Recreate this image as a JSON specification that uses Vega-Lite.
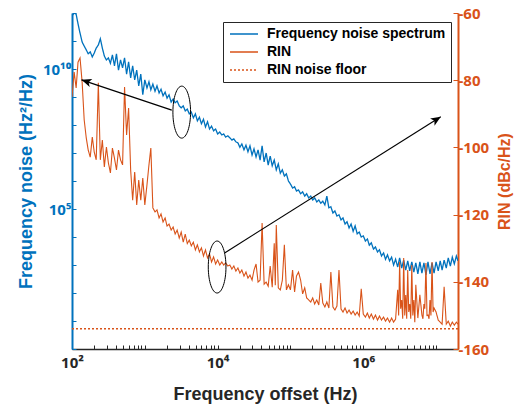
{
  "$schema": "https://vega.github.io/schema/vega-lite/v6.json",
  "width": 386,
  "height": 336,
  "autosize": {"type": "none"},
  "padding": {"left": 72, "top": 13, "right": 60, "bottom": 57},
  "background": "white",
  "config": {
    "view": {"stroke": null},
    "font": "Liberation Sans",
    "axis": {"labelFont": "Noto Sans", "titleFont": "Liberation Sans", "labelFontWeight": "bold", "titleFontWeight": "bold", "grid": false, "labelOverlap": false, "labelFlush": false, "labelBound": false},
    "legend": {"labelFont": "Liberation Sans"}
  },
  "datasets": {
    "fns": [
      {"f":100,"v":7.8e11},{"f":107,"v":1e12},{"f":114,"v":9.1e11},{"f":121,"v":4.1e11},{"f":129,"v":1.9e11},{"f":138,"v":9.1e10},{"f":147,"v":6.6e10},{"f":157,"v":4.8e10},{"f":167,"v":3.5e10},{"f":178,"v":4.1e10},{"f":190,"v":2.7e10},{"f":202,"v":3.7e10},{"f":215,"v":5.6e10},{"f":230,"v":7.2e10},{"f":245,"v":1.2e11},{"f":261,"v":5.6e10},{"f":278,"v":2.9e10},{"f":297,"v":2.1e10},{"f":316,"v":2.5e10},{"f":337,"v":1.6e10},{"f":359,"v":3.2e10},{"f":383,"v":1.3e10},{"f":408,"v":3.5e10},{"f":435,"v":9.1e9},{"f":464,"v":2.1e10},{"f":495,"v":1.1e10},{"f":527,"v":2.5e10},{"f":562,"v":6.6e9},{"f":599,"v":1.8e10},{"f":639,"v":4.8e9},{"f":681,"v":1.3e10},{"f":726,"v":4.1e9},{"f":774,"v":9.1e9},{"f":825,"v":2.5e9},{"f":880,"v":6.6e9},{"f":938,"v":1.2e9},
      {"f":1000,"v":4.1e9},{"f":1070,"v":2.1e9},{"f":1140,"v":3.5e9},{"f":1210,"v":1.8e9},{"f":1290,"v":2.9e9},{"f":1380,"v":1.6e9},{"f":1470,"v":2.5e9},{"f":1570,"v":1.4e9},{"f":1670,"v":1.9e9},{"f":1780,"v":1.1e9},{"f":1900,"v":1.5e9},{"f":2020,"v":9.1e8},{"f":2150,"v":1.2e9},{"f":2300,"v":6.6e8},{"f":2450,"v":8.5e8},{"f":2610,"v":6.2e8},{"f":2780,"v":7.2e8},{"f":2970,"v":4.8e8},{"f":3160,"v":4.1e8},{"f":3370,"v":4.8e8},{"f":3590,"v":3.2e8},{"f":3830,"v":3.7e8},{"f":4080,"v":2.5e8},{"f":4350,"v":2.9e8},{"f":4640,"v":1.8e8},{"f":4950,"v":2.5e8},{"f":5270,"v":1.4e8},{"f":5620,"v":1.9e8},{"f":5990,"v":1.1e8},{"f":6390,"v":1.6e8},{"f":6810,"v":8.5e7},{"f":7260,"v":1.3e8},{"f":7740,"v":7.2e7},{"f":8250,"v":9.1e7},{"f":8800,"v":6.2e7},{"f":9380,"v":7.2e7},
      {"f":10000,"v":4.8e7},{"f":10700,"v":5.6e7},{"f":11400,"v":4.4e7},{"f":12100,"v":4.8e7},{"f":12900,"v":3.7e7},{"f":13800,"v":4.1e7},{"f":14700,"v":3.5e7},{"f":15700,"v":2.9e7},{"f":16700,"v":3.2e7},{"f":17800,"v":2.5e7},{"f":19000,"v":2.3e7},{"f":20200,"v":1.6e7},{"f":21500,"v":2.1e7},{"f":23000,"v":1.3e7},{"f":24500,"v":1.9e7},{"f":26100,"v":1.1e7},{"f":27800,"v":1.8e7},{"f":29700,"v":8.5e6},{"f":31600,"v":1.4e7},{"f":33700,"v":7.2e6},{"f":35900,"v":1.3e7},{"f":38300,"v":5.6e6},{"f":40800,"v":1.8e7},{"f":43500,"v":4.8e6},{"f":46400,"v":1.0e7},{"f":49500,"v":3.7e6},{"f":52700,"v":7.8e6},{"f":56200,"v":3.5e6},{"f":59900,"v":5.6e6},{"f":63900,"v":2.5e6},{"f":68100,"v":4.1e6},{"f":72600,"v":1.9e6},{"f":77400,"v":2.5e6},{"f":82500,"v":1.5e6},{"f":88000,"v":1.8e6},{"f":93800,"v":1.0e6},
      {"f":100000,"v":7.8e5},{"f":107000,"v":5.6e5},{"f":114000,"v":6.2e5},{"f":121000,"v":4.4e5},{"f":129000,"v":4.8e5},{"f":138000,"v":3.5e5},{"f":147000,"v":4.1e5},{"f":157000,"v":2.9e5},{"f":167000,"v":3.5e5},{"f":178000,"v":2.5e5},{"f":190000,"v":2.9e5},{"f":202000,"v":2.1e5},{"f":215000,"v":2.5e5},{"f":230000,"v":1.8e5},{"f":245000,"v":2.1e5},{"f":261000,"v":1.6e5},{"f":278000,"v":1.9e5},{"f":297000,"v":1.4e5},{"f":316000,"v":2.9e5},{"f":337000,"v":1.1e5},{"f":359000,"v":1.2e5},{"f":383000,"v":7.2e4},{"f":408000,"v":8.5e4},{"f":435000,"v":5.6e4},{"f":464000,"v":6.2e4},{"f":495000,"v":4.1e4},{"f":527000,"v":4.8e4},{"f":562000,"v":2.9e4},{"f":599000,"v":3.5e4},{"f":639000,"v":2.1e4},{"f":681000,"v":2.9e4},{"f":726000,"v":1.6e4},{"f":774000,"v":2.5e4},{"f":825000,"v":1.3e4},{"f":880000,"v":1.5e4},{"f":938000,"v":1.0e4},
      {"f":1000000,"v":1.1e4},{"f":1070000,"v":7.2e3},{"f":1140000,"v":8.5e3},{"f":1210000,"v":5.1e3},{"f":1290000,"v":6.2e3},{"f":1380000,"v":3.7e3},{"f":1470000,"v":4.4e3},{"f":1570000,"v":2.9e3},{"f":1670000,"v":3.5e3},{"f":1780000,"v":2.1e3},{"f":1900000,"v":2.7e3},{"f":2020000,"v":1.6e3},{"f":2150000,"v":2.3e3},{"f":2300000,"v":1.4e3},{"f":2450000,"v":1.9e3},{"f":2610000,"v":1.0e3},{"f":2780000,"v":1.6e3},{"f":2970000,"v":8.5e2},{"f":3160000,"v":1.8e3},{"f":3370000,"v":7.8e2},{"f":3590000,"v":1.5e3},{"f":3830000,"v":6.6e2},{"f":4080000,"v":1.4e3},{"f":4350000,"v":6.2e2},{"f":4640000,"v":1.3e3},{"f":4950000,"v":5.6e2},{"f":5270000,"v":1.2e3},{"f":5620000,"v":4.8e2},{"f":5990000,"v":1.3e3},{"f":6390000,"v":5.1e2},{"f":6810000,"v":1.2e3},{"f":7260000,"v":4.4e2},{"f":7740000,"v":1.3e3},{"f":8250000,"v":4.8e2},{"f":8800000,"v":1.2e3},{"f":9380000,"v":5.1e2},
      {"f":10000000,"v":1.3e3},{"f":10700000,"v":6.2e2},{"f":11400000,"v":1.4e3},{"f":12100000,"v":6.6e2},{"f":12900000,"v":1.5e3},{"f":13800000,"v":7.8e2},{"f":14700000,"v":1.8e3},{"f":15700000,"v":9.1e2},{"f":16700000,"v":1.9e3},{"f":17800000,"v":1.1e3},{"f":19000000,"v":2.1e3},{"f":20000000,"v":1.4e3}
    ],
    "rin": [
      {"f":100,"db":-85.0},{"f":107,"db":-77.6},{"f":114,"db":-82.3},{"f":121,"db":-74.6},{"f":129,"db":-73.4},{"f":138,"db":-80.8},{"f":147,"db":-91.8},{"f":157,"db":-97.2},{"f":167,"db":-100.8},{"f":178,"db":-102.9},{"f":190,"db":-96.9},{"f":202,"db":-101.4},{"f":215,"db":-103.7},{"f":230,"db":-80.8},{"f":245,"db":-103.7},{"f":261,"db":-97.8},{"f":278,"db":-105.8},{"f":297,"db":-99.9},{"f":316,"db":-104.6},{"f":337,"db":-107.6},{"f":359,"db":-100.2},{"f":383,"db":-103.2},{"f":408,"db":-106.7},{"f":435,"db":-100.8},{"f":464,"db":-103.7},{"f":495,"db":-105.2},{"f":527,"db":-82.0},{"f":562,"db":-96.3},{"f":599,"db":-88.3},{"f":639,"db":-106.7},{"f":681,"db":-115.7},{"f":726,"db":-107.3},{"f":774,"db":-117.1},{"f":825,"db":-109.7},{"f":880,"db":-115.7},{"f":938,"db":-109.1},
      {"f":1000,"db":-117.1},{"f":1070,"db":-111.2},{"f":1140,"db":-105.2},{"f":1210,"db":-100.2},{"f":1290,"db":-118.0},{"f":1380,"db":-119.2},{"f":1470,"db":-118.6},{"f":1570,"db":-121.0},{"f":1670,"db":-119.8},{"f":1780,"db":-122.2},{"f":1900,"db":-121.0},{"f":2020,"db":-123.4},{"f":2150,"db":-122.8},{"f":2300,"db":-124.6},{"f":2450,"db":-123.7},{"f":2610,"db":-125.8},{"f":2780,"db":-124.6},{"f":2970,"db":-127.0},{"f":3160,"db":-125.2},{"f":3370,"db":-128.2},{"f":3590,"db":-125.8},{"f":3830,"db":-128.6},{"f":4080,"db":-127.6},{"f":4350,"db":-129.3},{"f":4640,"db":-128.2},{"f":4950,"db":-130.5},{"f":5270,"db":-129.0},{"f":5620,"db":-131.1},{"f":5990,"db":-129.9},{"f":6390,"db":-132.3},{"f":6810,"db":-130.5},{"f":7260,"db":-132.9},{"f":7740,"db":-131.7},{"f":8250,"db":-134.1},{"f":8800,"db":-132.6},{"f":9380,"db":-134.7},
      {"f":10000,"db":-133.5},{"f":10700,"db":-135.0},{"f":11400,"db":-134.1},{"f":12100,"db":-135.0},{"f":12900,"db":-134.4},{"f":13800,"db":-135.3},{"f":14700,"db":-135.0},{"f":15700,"db":-136.2},{"f":16700,"db":-135.3},{"f":17800,"db":-136.8},{"f":19000,"db":-135.9},{"f":20200,"db":-137.4},{"f":21500,"db":-136.5},{"f":23000,"db":-138.3},{"f":24500,"db":-137.1},{"f":26100,"db":-138.9},{"f":27800,"db":-138.0},{"f":29700,"db":-139.5},{"f":31600,"db":-136.5},{"f":33700,"db":-134.7},{"f":35900,"db":-140.1},{"f":38300,"db":-139.5},{"f":40800,"db":-122.5},{"f":43500,"db":-140.7},{"f":46400,"db":-140.1},{"f":49500,"db":-141.3},{"f":52700,"db":-135.3},{"f":56200,"db":-141.6},{"f":59900,"db":-128.5},{"f":61900,"db":-141.0},{"f":63900,"db":-123.1},{"f":68100,"db":-141.8},{"f":72600,"db":-142.4},{"f":77400,"db":-139.5},{"f":82500,"db":-129.0},{"f":88000,"db":-142.4},{"f":93800,"db":-140.9},
      {"f":100000,"db":-142.4},{"f":107000,"db":-136.5},{"f":114000,"db":-143.0},{"f":121000,"db":-138.3},{"f":129000,"db":-137.1},{"f":138000,"db":-139.5},{"f":147000,"db":-143.6},{"f":157000,"db":-141.8},{"f":167000,"db":-144.8},{"f":178000,"db":-145.4},{"f":190000,"db":-146.0},{"f":202000,"db":-144.8},{"f":215000,"db":-146.6},{"f":230000,"db":-145.4},{"f":245000,"db":-146.9},{"f":261000,"db":-140.4},{"f":278000,"db":-146.3},{"f":297000,"db":-147.5},{"f":316000,"db":-146.0},{"f":337000,"db":-147.8},{"f":359000,"db":-137.1},{"f":383000,"db":-147.5},{"f":408000,"db":-148.4},{"f":435000,"db":-147.2},{"f":464000,"db":-136.5},{"f":495000,"db":-148.1},{"f":527000,"db":-149.0},{"f":562000,"db":-147.8},{"f":599000,"db":-149.3},{"f":639000,"db":-148.4},{"f":681000,"db":-149.6},{"f":726000,"db":-148.7},{"f":774000,"db":-149.9},{"f":825000,"db":-149.0},{"f":880000,"db":-150.2},{"f":938000,"db":-142.1},
      {"f":1000000,"db":-149.6},{"f":1070000,"db":-150.5},{"f":1140000,"db":-149.3},{"f":1210000,"db":-150.8},{"f":1290000,"db":-149.6},{"f":1380000,"db":-151.1},{"f":1470000,"db":-149.9},{"f":1570000,"db":-151.4},{"f":1670000,"db":-150.2},{"f":1780000,"db":-151.4},{"f":1900000,"db":-150.5},{"f":2020000,"db":-151.7},{"f":2150000,"db":-150.8},{"f":2300000,"db":-152.0},{"f":2450000,"db":-150.8},{"f":2610000,"db":-152.0},{"f":2780000,"db":-151.1},{"f":2970000,"db":-142.4},{"f":3060000,"db":-150.0},{"f":3160000,"db":-134.1},{"f":3260000,"db":-148.0},{"f":3370000,"db":-145.4},{"f":3480000,"db":-151.0},{"f":3590000,"db":-132.9},{"f":3710000,"db":-150.0},{"f":3830000,"db":-143.9},{"f":3950000,"db":-151.0},{"f":4080000,"db":-136.5},{"f":4210000,"db":-149.0},{"f":4350000,"db":-146.6},{"f":4490000,"db":-151.0},{"f":4640000,"db":-135.0},{"f":4790000,"db":-150.0},{"f":4950000,"db":-145.4},{"f":5100000,"db":-152.0},{"f":5270000,"db":-140.9},{"f":5620000,"db":-150.8},{"f":5990000,"db":-143.9},{"f":6390000,"db":-149.9},{"f":6600000,"db":-151.0},{"f":6810000,"db":-146.6},{"f":7000000,"db":-148.0},{"f":7260000,"db":-134.4},{"f":7500000,"db":-150.0},{"f":7740000,"db":-149.9},{"f":8000000,"db":-151.0},{"f":8250000,"db":-145.4},{"f":8500000,"db":-150.0},{"f":8800000,"db":-134.1},{"f":9100000,"db":-149.0},{"f":9380000,"db":-147.8},
      {"f":10000000,"db":-149.0},{"f":10700000,"db":-151.4},{"f":11400000,"db":-152.0},{"f":12100000,"db":-152.6},{"f":12900000,"db":-141.5},{"f":13800000,"db":-152.6},{"f":14700000,"db":-151.7},{"f":15700000,"db":-153.2},{"f":16700000,"db":-152.0},{"f":17800000,"db":-152.9},{"f":19000000,"db":-152.0},{"f":20000000,"db":-152.6}
    ],
    "floor": [{"f":100,"db":-154},{"f":20000000,"db":-154}]
  },
  "encoding": {
    "x": {
      "field": "f", "type": "quantitative",
      "scale": {"type": "log", "domain": [100, 20000000], "nice": false},
      "axis": {
        "orient": "bottom",
        "values": [100,200,300,400,500,600,700,800,900,1000,2000,3000,4000,5000,6000,7000,8000,9000,10000,20000,30000,40000,50000,60000,70000,80000,90000,100000,200000,300000,400000,500000,600000,700000,800000,900000,1000000,2000000,3000000,4000000,5000000,6000000,7000000,8000000,9000000,10000000],
        "labelExpr": "datum.value == 100 ? '10²' : datum.value == 10000 ? '10⁴' : datum.value == 1000000 ? '10⁶' : ''",
        "tickSize": -4, "tickColor": "#262626", "tickWidth": 1,
        "domainColor": "#262626", "domainWidth": 1.5,
        "labelColor": "#262626", "labelFontSize": 15, "labelPadding": 10,
        "title": "Frequency offset (Hz)", "titleColor": "#262626", "titleFontSize": 18, "titlePadding": 15
      }
    }
  },
  "layer": [
    {
      "data": {"name": "fns"},
      "mark": {"type": "line", "strokeWidth": 1.3, "clip": true},
      "encoding": {
        "y": {
          "field": "v", "type": "quantitative",
          "scale": {"type": "log", "domain": [1, 1000000000000], "nice": false},
          "axis": {
            "orient": "left",
            "values": [1,10,100,1000,10000,100000,1000000,10000000,100000000,1000000000,10000000000,100000000000,1000000000000],
            "labelExpr": "datum.value == 100000 ? '10⁵' : datum.value == 10000000000 ? '10¹⁰' : ''",
            "tickSize": -4, "tickColor": "#0072BD",
            "domainColor": "#0072BD", "domainWidth": 2,
            "labelColor": "#0072BD", "labelFontSize": 15, "labelPadding": 5,
            "title": "Frequency noise (Hz²/Hz)", "titleColor": "#0072BD", "titleFontSize": 18, "titlePadding": 7
          }
        },
        "color": {
          "datum": "Frequency noise spectrum",
          "scale": {"domain": ["Frequency noise spectrum", "RIN", "RIN noise floor"], "range": ["#0072BD", "#D95319", "#D95319"]},
          "legend": {
            "title": null, "orient": "none", "legendX": 151, "legendY": 9,
            "strokeColor": "#262626", "fillColor": "white", "padding": 5,
            "labelFontSize": 14, "labelFontWeight": "bold", "labelColor": "black", "labelLimit": 0,
            "symbolType": "M-1,0H4.6", "symbolSize": 100, "symbolStrokeWidth": 1.5, "rowPadding": 4, "labelOffset": 25
          }
        },
        "strokeDash": {
          "datum": "Frequency noise spectrum",
          "scale": {"domain": ["Frequency noise spectrum", "RIN", "RIN noise floor"], "range": [[1, 0], [1, 0], [2, 2]]},
          "legend": {
            "title": null, "orient": "none", "legendX": 151, "legendY": 9,
            "strokeColor": "#262626", "fillColor": "white", "padding": 5,
            "labelFontSize": 14, "labelFontWeight": "bold", "labelColor": "black", "labelLimit": 0,
            "symbolType": "M-1,0H4.6", "symbolSize": 100, "symbolStrokeWidth": 1.5, "rowPadding": 4, "labelOffset": 25
          }
        }
      }
    },
    {
      "encoding": {
        "y": {
          "field": "db", "type": "quantitative",
          "scale": {"domain": [-160, -60], "nice": false},
          "axis": {
            "orient": "right",
            "values": [-160, -140, -120, -100, -80, -60],
            "labelExpr": "'' + datum.value",
            "tickSize": -5, "tickColor": "#D95319",
            "domainColor": "#D95319", "domainWidth": 2,
            "labelColor": "#D95319", "labelFontSize": 15, "labelPadding": 5,
            "title": "RIN (dBc/Hz)", "titleColor": "#D95319", "titleFontSize": 16, "titleAngle": 270, "titleBaseline": "top", "titlePadding": 8
          }
        }
      },
      "layer": [
        {
          "data": {"name": "rin"},
          "mark": {"type": "line", "strokeWidth": 1.1, "clip": true},
          "encoding": {
            "color": {"datum": "RIN"},
            "strokeDash": {"datum": "RIN"}
          }
        },
        {
          "data": {"name": "floor"},
          "mark": {"type": "line", "strokeWidth": 1.5},
          "encoding": {
            "color": {"datum": "RIN noise floor"},
            "strokeDash": {"datum": "RIN noise floor"}
          }
        },
        {
          "data": {"values": [{"f": 3214, "db": -89.5}, {"f": 9840, "db": -135.6}]},
          "mark": {"type": "point", "filled": false, "color": "black", "opacity": 1, "strokeWidth": 1, "size": 2704,
                   "shape": "M0,-1C0.1878,-1,0.34,-0.5523,0.34,0C0.34,0.5523,0.1878,1,0,1C-0.1878,1,-0.34,0.5523,-0.34,0C-0.34,-0.5523,-0.1878,-1,0,-1Z"}
        },
        {
          "data": {"values": [{"f": 2344, "db": -88.9, "f2": 135, "db2": -79.9}, {"f": 12470, "db": -131.4, "f2": 11600000, "db2": -90.9}]},
          "mark": {"type": "rule", "color": "black", "strokeWidth": 1.2},
          "encoding": {
            "x2": {"field": "f2"},
            "y2": {"field": "db2"}
          }
        },
        {
          "data": {"values": [{"f": 135, "db": -79.9}]},
          "mark": {"type": "point", "filled": true, "color": "black", "opacity": 1, "strokeWidth": 0, "size": 278, "angle": 288.3,
                   "shape": "M0,0L0.5,1.2L0,0.9L-0.5,1.2Z"}
        },
        {
          "data": {"values": [{"f": 11600000, "db": -90.9}]},
          "mark": {"type": "point", "filled": true, "color": "black", "opacity": 1, "strokeWidth": 0, "size": 278, "angle": 57.9,
                   "shape": "M0,0L0.5,1.2L0,0.9L-0.5,1.2Z"}
        }
      ]
    }
  ],
  "resolve": {"scale": {"y": "independent"}}
}
